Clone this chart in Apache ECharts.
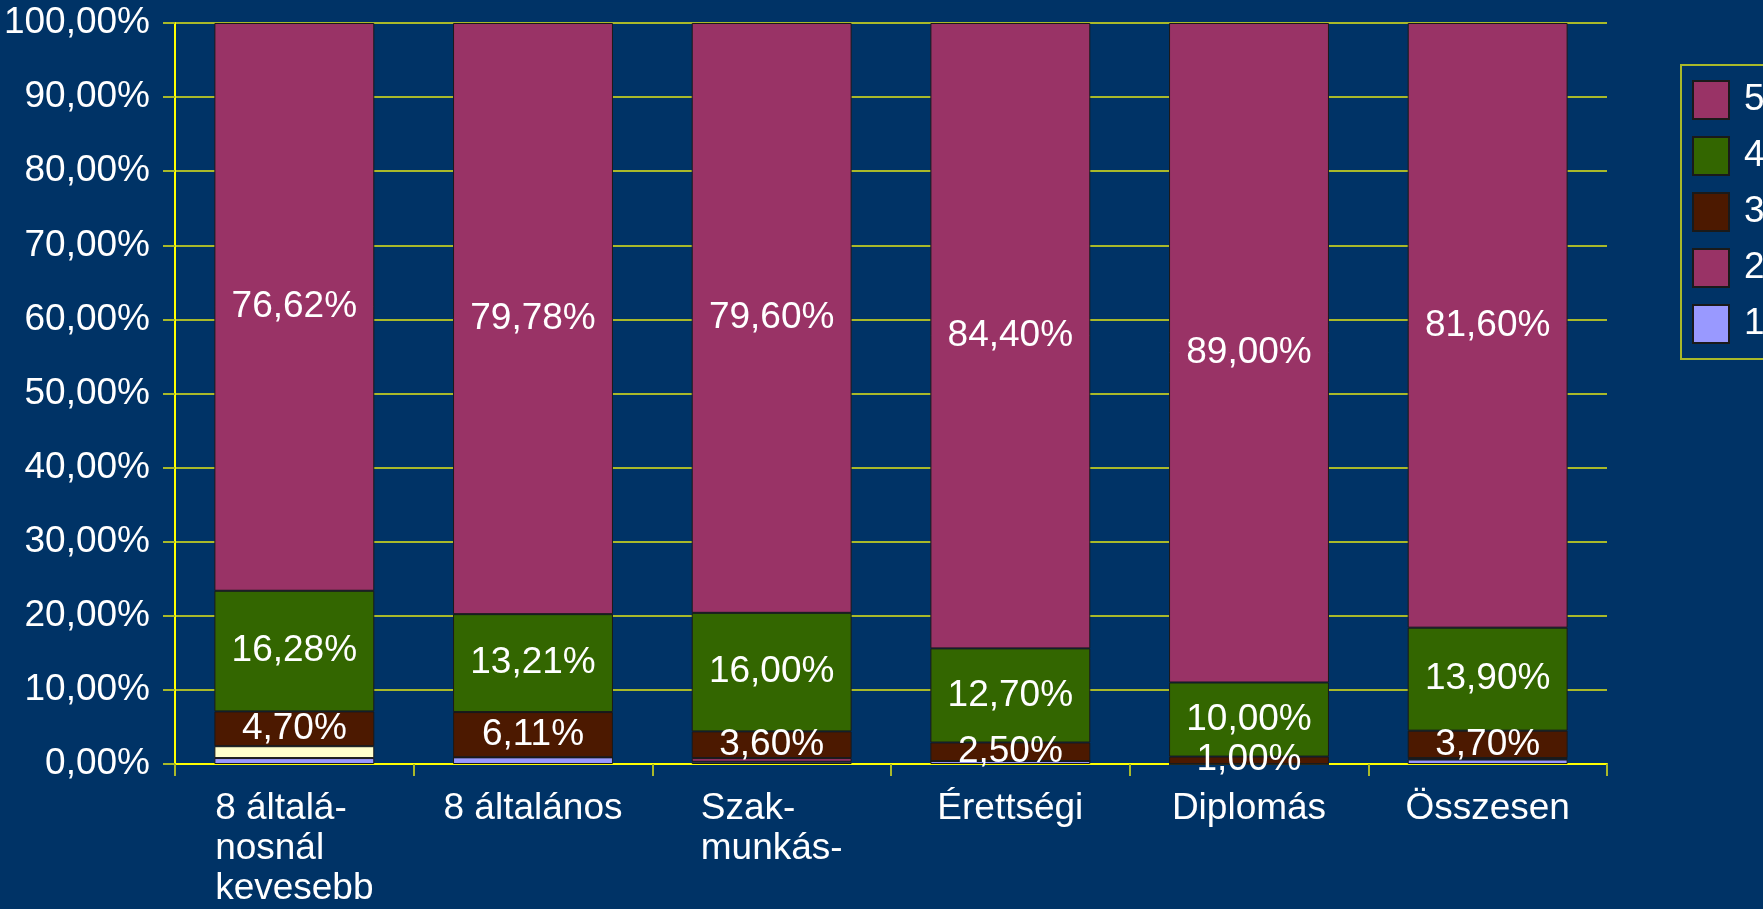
<!DOCTYPE html>
<html>
<head>
<meta charset="utf-8">
<script src="https://cdn.jsdelivr.net/npm/echarts@6/dist/echarts.min.js"></script>
<style>
  html, body { margin: 0; padding: 0; background: #003366; }
  #chart { width: 1763px; height: 909px; }
</style>
</head>
<body>
<div id="chart"></div>
<script>
// Data
var categories = ['8 általá-\nnosnál\nkevesebb', '8 általános', 'Szak-\nmunkás-', 'Érettségi', 'Diplomás', 'Összesen'];
var seriesNames = ['1', '2', '3', '4', '5'];
var s1 = [0.8, 0.9, 0.3, 0.4, 0, 0.6];
var s2 = [1.6, 0, 0.5, 0, 0, 0.2];
var s3 = [4.70, 6.11, 3.60, 2.50, 1.00, 3.70];
var s4 = [16.28, 13.21, 16.00, 12.70, 10.00, 13.90];
var s5 = [76.62, 79.78, 79.60, 84.40, 89.00, 81.60];
var legendOrder = ['5', '4', '3', '2', '1'];

var colors = ['#9999ff', '#993366', '#4c1900', '#336600', '#993366'];
var gridColor = '#a9b92a';
var font = '"Liberation Sans", Arial, sans-serif';
var fs = 37;

var pct = function (v) {
  return v.toFixed(2).replace('.', ',') + '%';
};

var chart = echarts.init(document.getElementById('chart'));

var buildSeries = function () {
  var all = [s1, s2, s3, s4, s5];
  return all.map(function (vals, i) {
    var data = vals.map(function (v, j) {
      // first bar has a cream segment for series 2
      if (i === 1 && j === 0) {
        return { value: v, itemStyle: { color: '#ffffcc' } };
      }
      return v;
    });
    return {
      type: 'bar',
      name: seriesNames[i],
      stack: 'total',
      barCategoryGap: '33%',
      data: data,
      itemStyle: {
        color: colors[i],
        borderColor: '#1a1a1a',
        borderWidth: 1
      },
      label: {
        show: i >= 2,
        position: 'inside',
        color: '#ffffff',
        fontFamily: font,
        fontSize: fs,
        formatter: function (p) { return pct(p.value); }
      },
      emphasis: { disabled: true }
    };
  });
};

chart.setOption({
  backgroundColor: '#003366',
  animation: false,
  grid: {
    left: 175,
    right: 156,
    top: 23,
    bottom: 142
  },
  legend: {
    data: legendOrder,
    orient: 'vertical',
    left: 1681,
    top: 65,
    itemWidth: 36,
    itemHeight: 38,
    itemGap: 16,
    padding: [15, 100, 15, 11],
    borderColor: gridColor,
    borderWidth: 2,
    icon: 'rect',
    textStyle: {
      color: '#ffffff',
      fontFamily: font,
      fontSize: fs,
      padding: [0, 0, 0, 10]
    }
  },
  xAxis: {
    type: 'category',
    data: categories,
    axisLine: {
      show: true,
      lineStyle: { color: '#ffff00', width: 2 }
    },
    axisTick: {
      show: true,
      length: 12,
      lineStyle: { color: gridColor, width: 2 }
    },
    axisLabel: {
      color: '#ffffff',
      fontFamily: font,
      fontSize: fs,
      lineHeight: 40,
      margin: 25,
      interval: 0,
      formatter: function (value) {
        return value.split('\n').map(function (line) {
          return '{l|' + line + '}';
        }).join('\n');
      },
      rich: {
        l: {
          align: 'left',
          color: '#ffffff',
          fontFamily: font,
          fontSize: fs,
          lineHeight: 40
        }
      }
    }
  },
  yAxis: {
    type: 'value',
    min: 0,
    max: 100,
    interval: 10,
    axisLine: {
      show: true,
      lineStyle: { color: '#ffff00', width: 2 }
    },
    axisTick: {
      show: true,
      length: 12,
      lineStyle: { color: gridColor, width: 2 }
    },
    axisLabel: {
      color: '#ffffff',
      fontFamily: font,
      fontSize: fs,
      margin: 25,
      formatter: function (v) { return pct(v); }
    },
    splitLine: {
      show: true,
      lineStyle: { color: gridColor, width: 2 }
    }
  },
  series: buildSeries()
});
</script>
</body>
</html>
